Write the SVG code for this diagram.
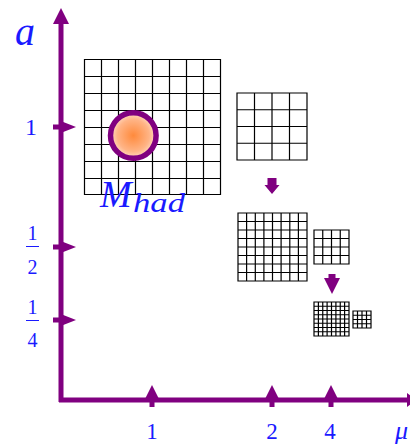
<svg xmlns="http://www.w3.org/2000/svg" width="410" height="444" viewBox="0 0 410 444">
<defs>
<style>
.grid{fill:none;stroke:#000;stroke-width:1.2}
.ax{fill:#800080;stroke:none}
.axl{stroke:#800080;stroke-width:5;fill:none}
.lbl{font-family:"Liberation Serif",serif;fill:#1a1aff}
.it{font-style:italic}
</style>
<radialGradient id="glow" cx="0.5" cy="0.5" r="0.5">
<stop offset="0" stop-color="#ff8a3c"/>
<stop offset="0.7" stop-color="#ffb486"/>
<stop offset="1" stop-color="#ffdcc4"/>
</radialGradient>
</defs>

<g id="connectors">
<line class="axl" x1="61" y1="22" x2="61" y2="402"/>
<line class="axl" x1="59" y1="400" x2="410" y2="400"/>
<polygon class="ax" points="61,8 69,24 53,24"/>
<polygon class="ax" points="407,393 416,400 407,407"/>
<g>
<rect class="ax" x="53" y="124.5" width="10" height="5"/><polygon class="ax" points="62,121.5 76,127 62,132.5"/>
<rect class="ax" x="53" y="244.5" width="10" height="5"/><polygon class="ax" points="62,241.5 76,247 62,252.5"/>
<rect class="ax" x="53" y="317.5" width="10" height="5"/><polygon class="ax" points="62,314.5 76,320 62,325.5"/>
</g>
<g>
<rect class="ax" x="149.5" y="396" width="5" height="11"/><polygon class="ax" points="152,385 158.5,398 145.5,398"/>
<rect class="ax" x="269.5" y="396" width="5" height="11"/><polygon class="ax" points="272,385 278.5,398 265.5,398"/>
<rect class="ax" x="328.5" y="396" width="5" height="11"/><polygon class="ax" points="331,385 337.5,398 324.5,398"/>
</g>
<polygon class="ax" points="267.5,178 276.5,178 276.5,185 279.5,185 272,194 264.5,185 267.5,185"/>
<polygon class="ax" points="328.5,274 335.5,274 335.5,278 340,278 332,294 324,278 328.5,278"/>
</g>

<g id="grid-coarse">
<path class="grid" d="M84.5 59.5H220.5V194.5H84.5Z M101.5 59.5V194.5M118.5 59.5V194.5M135.5 59.5V194.5M152.5 59.5V194.5M169.5 59.5V194.5M186.5 59.5V194.5M203.5 59.5V194.5 M84.5 76.5H220.5M84.5 93.5H220.5M84.5 110.5H220.5M84.5 127.5H220.5M84.5 144.5H220.5M84.5 161.5H220.5M84.5 178.5H220.5"/>
</g>

<g id="hadron">
<circle cx="133.3" cy="135.5" r="22.8" fill="url(#glow)" stroke="#800080" stroke-width="5.5"/>
</g>

<g id="label-mhad">
<text class="lbl it" x="100" y="207" font-size="38">M</text>
<text class="lbl it" x="133" y="212" font-size="27" textLength="52" lengthAdjust="spacingAndGlyphs">had</text>
</g>

<g id="grid-4x4-a">
<path class="grid" d="M237 93H307V160H237Z M254.5 93V160M272 93V160M289.5 93V160 M237 109.75H307M237 126.5H307M237 143.25H307"/>
</g>

<g id="grid-8x8-b">
<path class="grid" d="M238 213H307V281H238Z M246.6 213V281M255.3 213V281M263.9 213V281M272.5 213V281M281.1 213V281M289.8 213V281M298.4 213V281 M238 221.5H307M238 230H307M238 238.5H307M238 247H307M238 255.5H307M238 264H307M238 272.5H307"/>
</g>

<g id="grid-4x4-b">
<path class="grid" d="M314 230H349V264H314Z M322.75 230V264M331.5 230V264M340.25 230V264 M314 238.5H349M314 247H349M314 255.5H349"/>
</g>

<g id="grid-8x8-c">
<path class="grid" d="M314 302H349V336H314Z M318.4 302V336M322.75 302V336M327.1 302V336M331.5 302V336M335.9 302V336M340.25 302V336M344.6 302V336 M314 306.25H349M314 310.5H349M314 314.75H349M314 319H349M314 323.25H349M314 327.5H349M314 331.75H349"/>
</g>

<g id="grid-4x4-c">
<path class="grid" d="M353 311H371V328H353Z M357.5 311V328M362 311V328M366.5 311V328 M353 315.25H371M353 319.5H371M353 323.75H371"/>
</g>

<g id="axis-labels">
<text class="lbl it" x="15" y="45" font-size="40">a</text>
<text class="lbl" x="31" y="135" font-size="24" text-anchor="middle">1</text>
<text class="lbl" x="32.5" y="240" font-size="20" text-anchor="middle">1</text>
<line x1="26" y1="246.5" x2="39" y2="246.5" stroke="#1a1aff" stroke-width="1"/>
<text class="lbl" x="32.5" y="274" font-size="20" text-anchor="middle">2</text>
<text class="lbl" x="32.5" y="314" font-size="20" text-anchor="middle">1</text>
<line x1="26" y1="320.5" x2="39" y2="320.5" stroke="#1a1aff" stroke-width="1"/>
<text class="lbl" x="32.5" y="347" font-size="20" text-anchor="middle">4</text>
<text class="lbl" x="152" y="439" font-size="23" text-anchor="middle">1</text>
<text class="lbl" x="272" y="439" font-size="23" text-anchor="middle">2</text>
<text class="lbl" x="330" y="439" font-size="23" text-anchor="middle">4</text>
<text class="lbl it" x="395" y="439" font-size="26">μ</text>
</g>
</svg>
